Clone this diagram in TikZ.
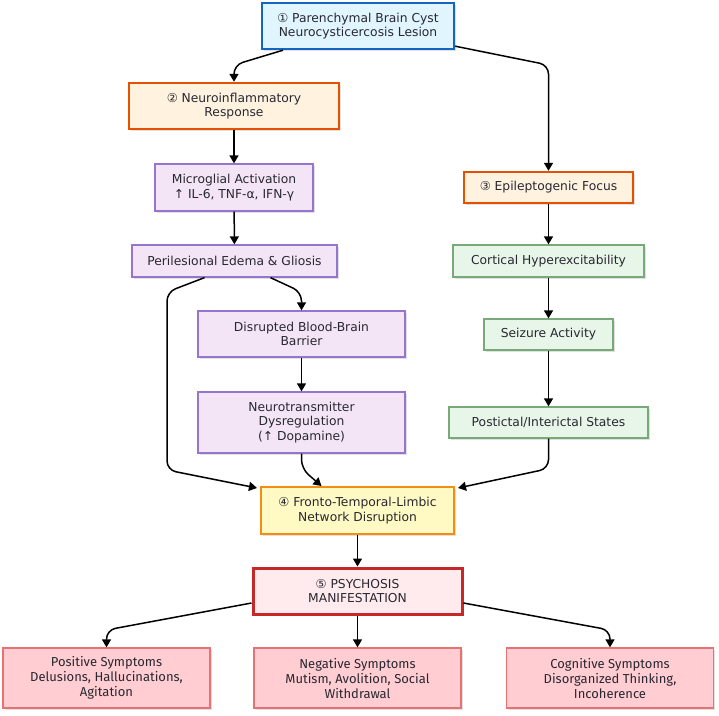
\documentclass[tikz,border=0pt]{standalone}
\usepackage{fontspec}
\setmainfont{DejaVu Sans}
\newfontfamily\symfont{Fira Sans}
\usetikzlibrary{arrows.meta,shadows}
\definecolor{txt}{RGB}{40,40,50}
\definecolor{blueF}{RGB}{225,245,254}\definecolor{blueD}{RGB}{21,101,192}
\definecolor{oraF}{RGB}{255,243,224}\definecolor{oraD}{RGB}{230,81,0}
\definecolor{purF}{RGB}{243,229,245}\definecolor{purD}{RGB}{149,117,205}
\definecolor{grnF}{RGB}{232,245,233}\definecolor{grnD}{RGB}{120,170,120}
\definecolor{yelF}{RGB}{255,249,196}\definecolor{yelD}{RGB}{245,140,20}
\definecolor{redF}{RGB}{255,235,238}\definecolor{redD}{RGB}{198,40,40}
\definecolor{pinkF}{RGB}{255,205,210}\definecolor{pinkD}{RGB}{229,115,115}
\tikzset{
  box/.style={rectangle, align=center, inner sep=0pt, text=txt,
    font=\fontsize{12.3}{14.5}\selectfont,
    general shadow={shadow xshift=1.5pt, shadow yshift=-1.5pt, fill=black!12}},
  topbox/.style={box, fill=blueF, draw=blueD, line width=2.4pt},
  orabox/.style={box, fill=oraF, draw=oraD, line width=2.4pt},
  purbox/.style={box, fill=purF, draw=purD, line width=1.3pt},
  grnbox/.style={box, fill=grnF, draw=grnD, line width=1.3pt},
  yelbox/.style={box, fill=yelF, draw=yelD, line width=2pt},
  psybox/.style={box, fill=redF, draw=redD, line width=3pt},
  symbox/.style={box, fill=pinkF, draw=pinkD, line width=1.3pt,
    font=\symfont\fontsize{13}{15}\selectfont},
  arr/.style={line width=1.5pt, black, rounded corners=9pt,
    -{Triangle[length=8pt,width=9pt]}}
}
\begin{document}
\begin{tikzpicture}[x=1pt,y=-1pt]
\useasboundingbox[fill=white] (0,0) rectangle (719,715);
% cyst origin
\node[topbox, minimum width=192pt, minimum height=46pt] (cyst) at (358,26)
  {① Parenchymal Brain Cyst\\Neurocysticercosis Lesion};
% inflammatory branch
\node[orabox, minimum width=210pt, minimum height=46pt] (inf) at (234,106)
  {② Neuroinflammatory\\Response};
\node[purbox, minimum width=158pt, minimum height=47pt] (mic) at (234,187.5)
  {Microglial Activation\\↑ IL-6, TNF-α, IFN-γ};
\node[purbox, minimum width=205pt, minimum height=32pt] (peri) at (234.5,261)
  {Perilesional Edema \& Gliosis};
\node[purbox, minimum width=207pt, minimum height=46pt] (bbb) at (301.5,334)
  {Disrupted Blood-Brain\\Barrier};
\node[purbox, minimum width=207pt, minimum height=61pt] (neu) at (301.5,422.5)
  {Neurotransmitter\\Dysregulation\\(↑ Dopamine)};
% epileptic branch
\node[orabox, minimum width=169pt, minimum height=31pt] (epi) at (548.5,187.5)
  {③ Epileptogenic Focus};
\node[grnbox, minimum width=191pt, minimum height=32pt] (cor) at (548.5,261)
  {Cortical Hyperexcitability};
\node[grnbox, minimum width=129pt, minimum height=31pt] (sei) at (548.5,334.5)
  {Seizure Activity};
\node[grnbox, minimum width=199pt, minimum height=31pt] (pos) at (548.5,422.5)
  {Postictal/Interictal States};
% convergence
\node[yelbox, minimum width=193pt, minimum height=47pt] (net) at (357.5,510.5)
  {④ Fronto-Temporal-Limbic\\Network Disruption};
\node[psybox, minimum width=209pt, minimum height=46pt] (psy) at (357.5,591)
  {⑤ PSYCHOSIS\\MANIFESTATION};
% symptom domains
\node[symbox, minimum width=207pt, minimum height=60pt] (posS) at (106.5,678)
  {Positive Symptoms\\Delusions, Hallucinations,\\Agitation};
\node[symbox, minimum width=207pt, minimum height=60pt] (negS) at (357.5,678)
  {Negative Symptoms\\Mutism, Avolition, Social\\Withdrawal};
\node[symbox, minimum width=207pt, minimum height=60pt] (cogS) at (610,678)
  {Cognitive Symptoms\\Disorganized Thinking,\\Incoherence};
% connectors
\draw[arr] ([xshift=-75pt]cyst.south) -- (inf.north |- 0,65) -- (inf.north);
\draw[arr] ([yshift=4pt]cyst.south east) -- (epi.north |- 0,65) -- (epi.north);
\draw[arr] (inf) -- (mic);
\draw[arr] (mic) -- (peri);
\draw[arr] ([xshift=36pt]peri.south) -- (bbb.north |- 0,292) -- (bbb.north);
\draw[arr] (bbb) -- (neu);
\draw[arr] ([xshift=-30pt]peri.south) -- (167,292) -- (167,470) -- ([xshift=-3pt,yshift=-2pt]net.north west);
\draw[arr] (neu.south) -- ++(0,15) -- ([xshift=-36pt]net.north);
\draw[arr] (pos.south) -- ++(0,30) -- ([xshift=3pt,yshift=-2pt]net.north east);
\draw[arr] (epi) -- (cor);
\draw[arr] (cor) -- (sei);
\draw[arr] (sei) -- (pos);
\draw[arr] (net) -- (psy);
\draw[arr] ([yshift=-12pt]psy.west) -- (posS.north |- 0,630) -- (posS.north);
\draw[arr] (psy) -- (negS);
\draw[arr] ([yshift=-12pt]psy.east) -- (cogS.north |- 0,630) -- (cogS.north);
\end{tikzpicture}
\end{document}
